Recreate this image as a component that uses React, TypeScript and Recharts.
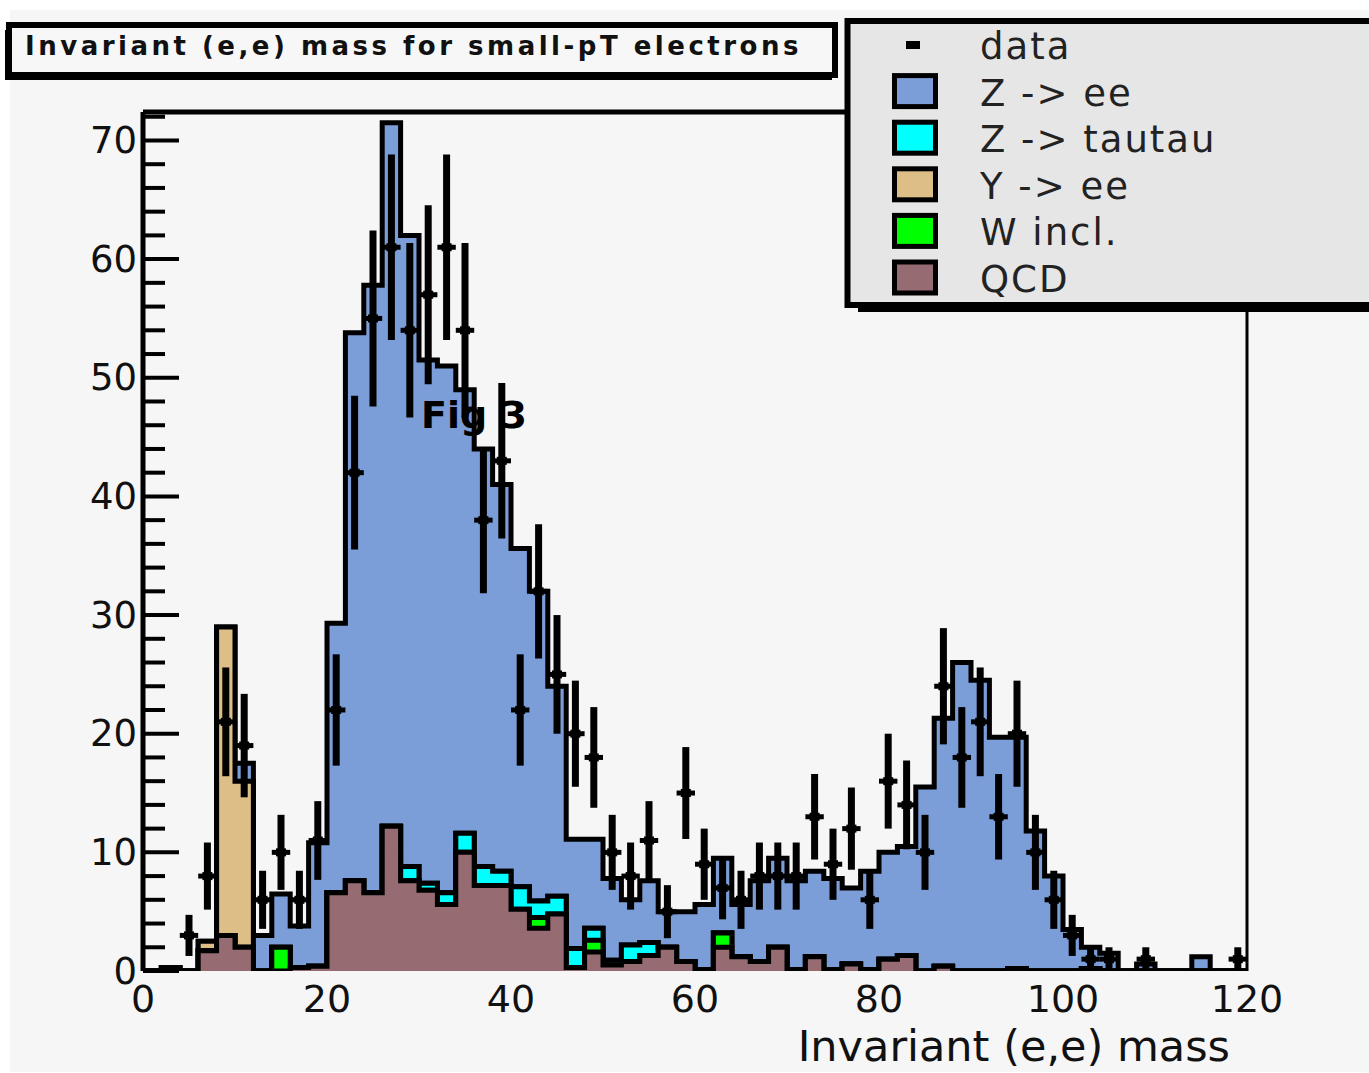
import { Area, ComposedChart, ErrorBar, Scatter, XAxis, YAxis } from "recharts";

// 2 GeV bins from 0 to 120; each entry is one bin, lowest mass first.
const BIN_WIDTH = 2;

const QCD = [
  0, 0.3, 0, 1.7, 3, 2, 0, 0, 0.3, 0.4,
  6.6, 7.6, 6.6, 12.2, 7.6, 6.8, 5.6, 10, 7.2, 7.2,
  5.2, 3.6, 4.8, 0.3, 1.6, 0.5, 0.8, 1.3, 2, 0.8,
  0.1, 2, 1.2, 0.8, 2, 0.1, 1.2, 0.1, 0.6, 0.1,
  1, 1.3, 0, 0.4, 0, 0, 0, 0.2, 0, 0,
  0, 0.2, 0, 0, 0, 0, 0, 0, 0, 0,
];
const W_INCL = [
  0, 0, 0, 0, 0, 0, 0, 2, 0, 0,
  0, 0, 0, 0, 0, 0, 0, 0, 0, 0,
  0, 0.9, 0, 0, 1, 0, 0, 0, 0, 0,
  0, 1.2, 0, 0, 0, 0, 0, 0, 0, 0,
  0, 0, 0, 0, 0, 0, 0, 0, 0, 0,
  0, 0, 0, 0, 0, 0, 0, 0, 0, 0,
];
const Z_TAUTAU = [
  0, 0, 0, 0, 0, 0, 0, 0, 0, 0,
  0, 0, 0, 0, 1.2, 0.6, 1, 1.6, 1.6, 1.2,
  1.9, 1.4, 1.5, 1.6, 1, 0.4, 1.4, 1.1, 0, 0,
  0, 0, 0, 0, 0, 0, 0, 0, 0, 0,
  0, 0, 0, 0, 0, 0, 0, 0, 0, 0,
  0, 0, 0, 0, 0, 0, 0, 0, 0, 0,
];
const UPSILON_EE = [
  0, 0, 0, 0.8, 26, 14, 0, 0, 0, 0,
  0, 0, 0, 0, 0, 0, 0, 0, 0, 0,
  0, 0, 0, 0, 0, 0, 0, 0, 0, 0,
  0, 0, 0, 0, 0, 0, 0, 0, 0, 0,
  0, 0, 0, 0, 0, 0, 0, 0, 0, 0,
  0, 0, 0, 0, 0, 0, 0, 0, 0, 0,
];
const Z_EE = [
  0, 0, 0, 0, 0, 1.5, 3, 4.5, 3.5, 10.4,
  22.7, 46.2, 51.2, 59.3, 53.2, 44.1, 44.4, 37.4, 35.2, 32.6,
  28.5, 26.1, 17.7, 9.2, 7.5, 6.9, 3.8, 5.2, 3, 4.2,
  5.5, 6.3, 4.4, 6.8, 7.5, 7.5, 7.2, 7.7, 6.4, 8.3,
  9, 9.2, 15.5, 20.9, 26, 24.5, 19.7, 19.5, 11.8, 8,
  3.5, 1.8, 1.5, 0, 0.6, 0, 0, 1.2, 0, 0,
];
const DATA = [
  0, 0, 3, 8, 21, 19, 6, 10, 6, 11,
  22, 42, 55, 61, 54, 57, 61, 54, 38, 43,
  22, 32, 25, 20, 18, 10, 8, 11, 5, 15,
  9, 7, 6, 8, 8, 8, 13, 9, 12, 6,
  16, 14, 10, 24, 18, 21, 13, 20, 10, 6,
  3, 1, 1, 0, 1, 0, 0, 0, 0, 1,
];

const X_TICKS = [0, 20, 40, 60, 80, 100, 120];
const Y_LABELS = [0, 10, 20, 30, 40, 50, 60, 70];
const Y_TICKS = Array.from({ length: 37 }, (_, i) => i * 2);

const BLUE = "#7b9dd8";
const CYAN = "#00ffff";
const TAN = "#dcbe86";
const GREEN = "#00ff00";
const MAUVE = "#966c72";

const LEGEND = [
  { label: "data", color: null },
  { label: "Z -> ee", color: BLUE },
  { label: "Z -> tautau", color: CYAN },
  { label: "Y -> ee", color: TAN },
  { label: "W incl.", color: GREEN },
  { label: "QCD", color: MAUVE },
];

const FONT = "'DejaVu Sans', sans-serif";
const NBINS = QCD.length;

// cumulative stack, one row per bin edge (last edge repeats the last bin)
const rows = Array.from({ length: NBINS + 1 }, (_, i) => {
  const k = Math.min(i, NBINS - 1);
  const qcd = QCD[k];
  const w = qcd + W_INCL[k];
  const tt = w + Z_TAUTAU[k];
  const ups = tt + UPSILON_EE[k];
  const zee = ups + Z_EE[k];
  return { x: i * BIN_WIDTH, qcd, w, tt, ups, zee };
});

const points = DATA.map((n, i) => ({
  x: i * BIN_WIDTH + BIN_WIDTH / 2,
  n,
  ey: Math.sqrt(n),
  ex: BIN_WIDTH / 2,
})).filter((p) => p.n > 0);

const YTick = (props: any) => {
  const { x, y, payload } = props;
  const major = Y_LABELS.includes(payload.value);
  return (
    <g>
      <line x1={x} x2={x + (major ? 36 : 22)} y1={y} y2={y} stroke="#000" strokeWidth={4} />
      {major && (
        <text
          x={x - 6}
          y={y}
          textAnchor="end"
          dominantBaseline="central"
          fontFamily={FONT}
          fontSize={37}
          fill="#111"
        >
          {payload.value}
        </text>
      )}
    </g>
  );
};

const XTick = (props: any) => {
  const { x, y, payload } = props;
  return (
    <text
      x={x}
      y={y + 28}
      textAnchor="middle"
      dominantBaseline="central"
      fontFamily={FONT}
      fontSize={38}
      fill="#111"
    >
      {payload.value}
    </text>
  );
};

const DataMarker = (props: any) => (
  <rect x={props.cx - 5} y={props.cy - 4} width={10} height={8} fill="#000" />
);

const stepArea = (key: string, color: string) => (
  <Area
    key={key}
    type="stepAfter"
    dataKey={key}
    fill={color}
    fillOpacity={1}
    stroke="#000"
    strokeWidth={5}
    dot={false}
    activeDot={false}
    isAnimationActive={false}
  />
);

export default function App() {
  return (
    <div
      style={{
        position: "absolute",
        left: 0,
        top: 0,
        width: 1369,
        height: 1073,
        background: "#fff",
        overflow: "hidden",
      }}
    >
      <div
        style={{
          position: "absolute",
          left: 10,
          top: 10,
          right: 0,
          bottom: 1,
          background: "#f6f6f6",
        }}
      />
      <div style={{ position: "absolute", left: 0, top: 0 }}>
        <ComposedChart
          width={1369}
          height={1073}
          data={rows}
          margin={{ top: 107, right: 117, bottom: 42, left: 83 }}
        >
          <XAxis
            dataKey="x"
            type="number"
            domain={[0, 120]}
            ticks={X_TICKS}
            interval={0}
            height={60}
            tickSize={0}
            tickMargin={0}
            tickLine={false}
            axisLine={false}
            tick={<XTick />}
            allowDataOverflow
          />
          <XAxis
            xAxisId="top"
            orientation="top"
            type="number"
            domain={[0, 120]}
            height={5}
            ticks={[]}
            tick={false}
            tickLine={false}
            axisLine={{ stroke: "#000", strokeWidth: 5 }}
          />
          <YAxis
            type="number"
            domain={[0, 72.4]}
            ticks={Y_TICKS}
            interval={0}
            width={60}
            tickSize={0}
            tickMargin={0}
            tickLine={false}
            axisLine={{ stroke: "#000", strokeWidth: 5 }}
            tick={<YTick />}
            allowDataOverflow
          />
          <YAxis
            yAxisId="right"
            orientation="right"
            type="number"
            domain={[0, 72.4]}
            width={5}
            ticks={[]}
            tick={false}
            tickLine={false}
            axisLine={{ stroke: "#000", strokeWidth: 3 }}
          />
          {stepArea("zee", BLUE)}
          {stepArea("ups", TAN)}
          {stepArea("tt", CYAN)}
          {stepArea("w", GREEN)}
          {stepArea("qcd", MAUVE)}
          <Scatter data={points} dataKey="n" shape={<DataMarker />} isAnimationActive={false}>
            <ErrorBar dataKey="ey" direction="y" width={0} stroke="#000" strokeWidth={7} />
            <ErrorBar dataKey="ex" direction="x" width={0} stroke="#000" strokeWidth={5} />
          </Scatter>
        </ComposedChart>
      </div>
      <svg
        width={1369}
        height={1073}
        style={{ position: "absolute", left: 0, top: 0, pointerEvents: "none" }}
      >
        {/* title box */}
        <rect x={5} y={30} width={827} height={50} fill="#000" />
        <rect x={9} y={25} width={826} height={50} fill="#f7f7f7" stroke="#000" strokeWidth={6} />
        <text
          x={25}
          y={55}
          fontFamily={FONT}
          fontWeight="bold"
          fontSize={26}
          letterSpacing={3.5}
          fill="#111"
        >
          Invariant (e,e) mass for small-pT electrons
        </text>

        {/* legend */}
        <rect x={858} y={28} width={600} height={284} fill="#000" />
        <rect x={847.5} y={21} width={600} height={284} fill="#e6e6e6" stroke="#000" strokeWidth={6} />
        {LEGEND.map((e, i) => {
          const base = 59 + i * 46.6;
          return (
            <g key={e.label}>
              {e.color ? (
                <rect
                  x={894.5}
                  y={base - 30}
                  width={41}
                  height={31}
                  fill={e.color}
                  stroke="#000"
                  strokeWidth={5}
                />
              ) : (
                <rect x={906} y={base - 18} width={14} height={8} fill="#000" />
              )}
              <text
                x={980}
                y={base}
                fontFamily={FONT}
                fontSize={37}
                letterSpacing={2}
                fill="#222"
              >
                {e.label}
              </text>
            </g>
          );
        })}

        <text x={421} y={428} fontFamily={FONT} fontWeight="bold" fontSize={38} fill="#000">
          Fig 3
        </text>
        <text
          x={1230}
          y={1061}
          textAnchor="end"
          fontFamily={FONT}
          fontSize={43}
          fill="#111"
        >
          Invariant (e,e) mass
        </text>
      </svg>
    </div>
  );
}
